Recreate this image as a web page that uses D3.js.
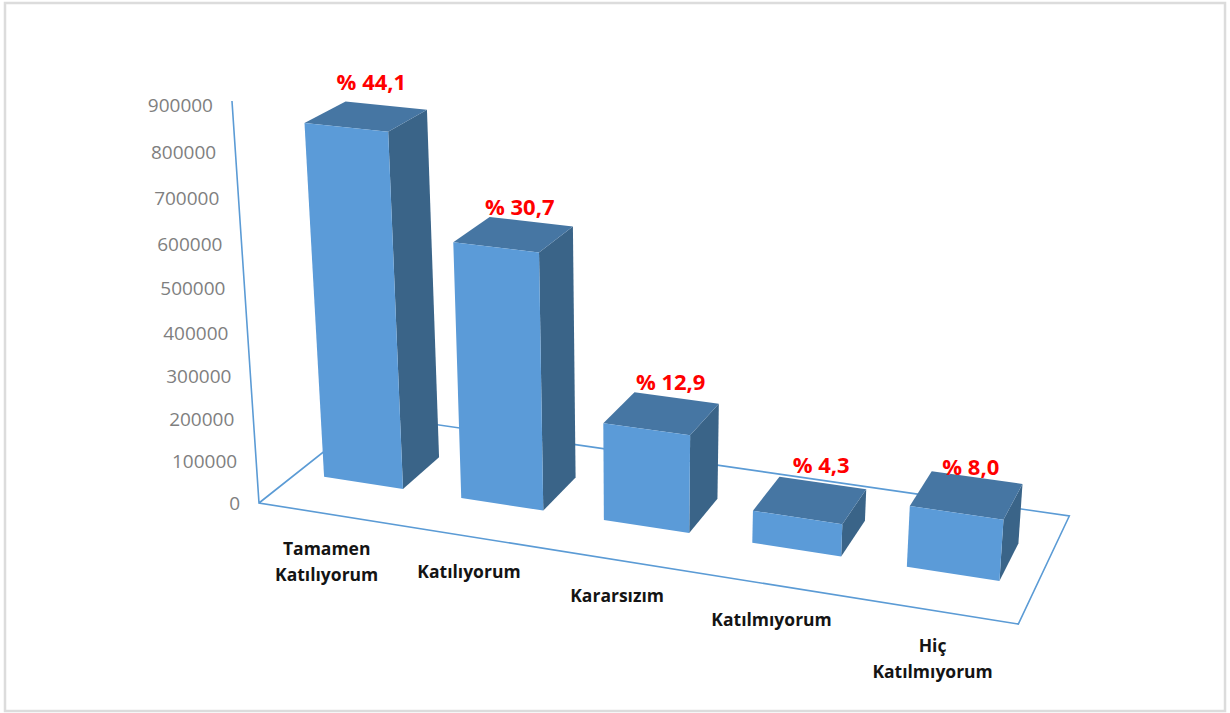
<!DOCTYPE html>
<head>
  <meta charset="utf-8">
  <script src="https://d3js.org/d3.v7.min.js"></script>
  <style>
    html, body { margin: 0; padding: 0; background: #fff; }
    svg { display: block; }
    text { font-family: 'Open Sans', sans-serif; }
    .tick-label { font-size: 19px; fill: #7f7f7f; }
    .cat-label { font-size: 17.5px; font-weight: 700; fill: #141414; }
    .value-label { font-size: 22px; font-weight: 700; fill: #ff0000; }
    .floor { fill: none; stroke: #5b9bd5; stroke-width: 1.6; }
  </style>
</head>

<body>
<div id="chart"></div>

<script>

// values
const categories = ["Tamamen Katılıyorum", "Katılıyorum", "Kararsızım", "Katılmıyorum", "Hiç Katılmıyorum"];
const values = [816000, 590000, 226000, 74500, 138000];
const valueLabels = ["% 44,1", "% 30,7", "% 12,9", "% 4,3", "% 8,0"];
const yTicks = [0, 100000, 200000, 300000, 400000, 500000, 600000, 700000, 800000, 900000];

const width = 1230, height = 713;

// where the chart box sits on the screen
const A = [259, 503], B = [1018.3, 624], C = [1069.3, 516], D = [370, 415];
const axisTop = [232, 101];
const vanish = [636, 6113];   // vertical edges converge down here

// unit square -> floor quad
const sx = A[0] - B[0] + C[0] - D[0], sy = A[1] - B[1] + C[1] - D[1];
const dx1 = B[0] - C[0], dy1 = B[1] - C[1], dx2 = D[0] - C[0], dy2 = D[1] - C[1];
const den = dx1 * dy2 - dy1 * dx2;
const g = (sx * dy2 - sy * dx2) / den;
const h = (dx1 * sy - dy1 * sx) / den;
const a = B[0] - A[0] + g * B[0], b = D[0] - A[0] + h * D[0];
const d = B[1] - A[1] + g * B[1], e = D[1] - A[1] + h * D[1];
const k = (axisTop[1] - A[1]) / (vanish[1] - axisTop[1]);

// u along categories, v into the depth, z up, all 0..1
function project(u, v, z) {
  const w = g * u + h * v + 1 + k * z;
  return [
    (a * u + b * v + A[0] + k * z * vanish[0]) / w,
    (d * u + e * v + A[1] + k * z * vanish[1]) / w
  ];
}

const x = d3.scaleBand().domain(categories).range([0, 0.995]).paddingInner(0.42).paddingOuter(0.2);
const z = d3.scaleLinear().domain([0, 900000]).range([0, 1]);
const depth = d3.scaleLinear().domain([0, 1]).range([0.325, 0.675]);

const svg = d3.select("#chart").append("svg")
  .attr("width", width)
  .attr("height", height);

svg.append("rect")
  .attr("x", 5).attr("y", 3)
  .attr("width", width - 10).attr("height", height - 5)
  .attr("fill", "#fff")
  .attr("stroke", "#dcdcdc")
  .attr("stroke-width", 2.5);

const line = d3.line();

// floor and value axis
svg.append("path").attr("class", "floor")
  .attr("d", line([project(0, 0, 1), project(0, 0, 0), project(1, 0, 0), project(1, 1, 0), project(0, 1, 0), project(0, 0, 0)]));

// tick labels sit a bit lower than the axis towards the top
svg.selectAll(".tick-label")
  .data(yTicks)
  .enter().append("text")
  .attr("class", "tick-label")
  .attr("x", t => project(0, 0, z(t))[0] - 19)
  .attr("y", t => project(0, 0, z(t))[1] + 4 * z(t))
  .attr("dy", "0.35em")
  .attr("text-anchor", "end")
  .text(t => t);

// bars
const faces = [
  { fill: "#3a6488", pts: (l, r, f, n, t) => [[r, f, 0], [r, n, 0], [r, n, t], [r, f, t]] },
  { fill: "#4676a3", pts: (l, r, f, n, t) => [[l, f, t], [r, f, t], [r, n, t], [l, n, t]] },
  { fill: "#5b9bd8", pts: (l, r, f, n, t) => [[l, f, 0], [r, f, 0], [r, f, t], [l, f, t]] }
];

const bars = svg.selectAll(".bar")
  .data(categories)
  .enter().append("g")
  .attr("class", "bar");

bars.selectAll("path")
  .data((c, i) => faces.map(face => {
    const l = x(c), r = x(c) + x.bandwidth();
    return { fill: face.fill, pts: face.pts(l, r, depth(0), depth(1), z(values[i])) };
  }))
  .enter().append("path")
  .attr("fill", f => f.fill)
  .attr("d", f => line(f.pts.map(p => project(p[0], p[1], p[2]))) + "Z");

// labels were placed by hand in the original, so they need a nudge each
const labelNudge = [[5, -34], [6, -27], [9, -31], [11, -35], [4, -28]];

svg.selectAll(".value-label")
  .data(valueLabels)
  .enter().append("text")
  .attr("class", "value-label")
  .attr("x", (t, i) => project(x(categories[i]) + x.bandwidth() / 2, 0.5, z(values[i]))[0] + labelNudge[i][0])
  .attr("y", (t, i) => project(x(categories[i]) + x.bandwidth() / 2, 0.5, z(values[i]))[1] + labelNudge[i][1])
  .attr("dy", "0.35em")
  .attr("text-anchor", "middle")
  .text(t => t);

// category labels, two words go on two lines
const catText = svg.selectAll(".cat-label")
  .data(categories)
  .enter().append("text")
  .attr("class", "cat-label")
  .attr("text-anchor", "middle");

catText.selectAll("tspan")
  .data(c => {
    const u = x(c) + x.bandwidth() / 2;
    const p = project(u, 0, 0);
    return c.split(" ").map((word, i) => ({ word, px: p[0], py: p[1] + 35.5 + i * 26 }));
  })
  .enter().append("tspan")
  .attr("x", s => s.px)
  .attr("y", s => s.py)
  .attr("dy", "0.35em")
  .text(s => s.word);

</script>
</body>
